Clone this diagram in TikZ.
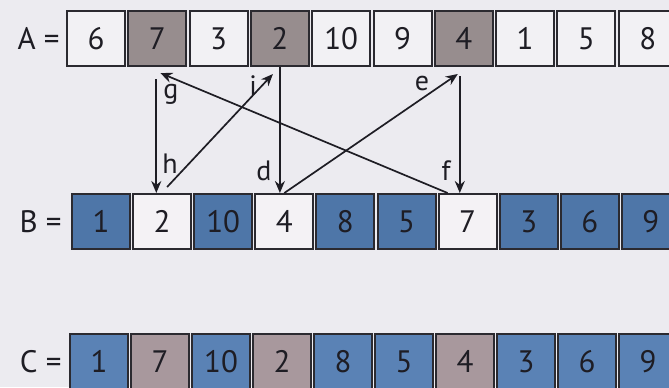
\documentclass[tikz,border=0pt]{standalone}
\usepackage{fontspec}
\setmainfont{PT Sans}
\usetikzlibrary{positioning,arrows.meta}

\definecolor{pagebg}{HTML}{ECEBF0}
\definecolor{cellline}{HTML}{2B2A30}
\definecolor{awhite}{HTML}{F2F1F4}
\definecolor{agray}{HTML}{978D8E}
\definecolor{bblue}{HTML}{4E76A8}
\definecolor{bwhite}{HTML}{F4F2F5}
\definecolor{cblue}{HTML}{5A82B5}
\definecolor{cgray}{HTML}{A8989D}
\definecolor{inktext}{HTML}{1E1D24}

\tikzset{
  cell/.style={draw=cellline,line width=1pt,minimum width=29pt,minimum height=27.5pt,
    inner sep=0pt,text=inktext,font=\fontsize{15.5}{18}\selectfont},
  rowname/.style={inner sep=0pt,text=inktext,font=\fontsize{15.5}{18}\selectfont},
  arr/.style={-{Stealth[length=6pt,width=5pt]},line width=0.85pt,draw=inktext},
  steplabel/.style={anchor=base,inner sep=0pt,text=inktext,font=\fontsize{14}{16}\selectfont}
}

\begin{document}
\begin{tikzpicture}[x=0.5pt,y=-0.5pt]
\useasboundingbox[fill=pagebg] (0,0) rectangle (669,387);

% row A
\foreach \v/\c [count=\i from 0] in {6/awhite,7/agray,3/awhite,2/agray,10/awhite,9/awhite,4/agray,1/awhite,5/awhite,8/awhite}
  \node[cell,fill=\c] (a\i) at (96+61.3*\i,38.5) {\v};
% row B
\foreach \v/\c [count=\i from 0] in {1/bblue,2/bwhite,10/bblue,4/bwhite,8/bblue,5/bblue,7/bwhite,3/bblue,6/bblue,9/bblue}
  \node[cell,fill=\c] (b\i) at (101+61.1*\i,221.5) {\v};
% row C
\foreach \v/\c [count=\i from 0] in {1/cblue,7/cgray,10/cblue,2/cgray,8/cblue,5/cblue,4/cgray,3/cblue,6/cblue,9/cblue}
  \node[cell,fill=\c] (c\i) at (99+61*\i,361.5) {\v};

\node[rowname,left=3pt of a0] (namea) {A =};
\node[rowname,left=4.5pt of b0] (nameb) {B =};
\node[rowname,left=3.5pt of c0] (namec) {C =};

% free ends of the cycle
\coordinate (ftop) at ([xshift=-2pt,yshift=-4.5pt]a6.south);
\coordinate (htop) at ([xshift=-0.5pt,yshift=-6pt]a1.south);

\draw[arr] (a3.south) -- (a3.south |- b3.north);
\draw[arr] (b3.north) -- ([xshift=-3pt,yshift=-3.5pt]a6.south);
\draw[arr] (ftop) -- (ftop |- b6.north);
\draw[arr] ([xshift=-10pt]b6.north) -- ([xshift=1.5pt,yshift=-3pt]a1.south);
\draw[arr] (htop) -- (htop |- b1.north);
\draw[arr] ([xshift=2.5pt,yshift=3pt]b1.north) -- ([xshift=-3.5pt,yshift=-3.5pt]a3.south);

\node[steplabel] (labd) at (264,180) {d};
\node[steplabel] (labe) at (422,90) {e};
\node[steplabel] (labf) at (446,180) {f};
\node[steplabel] (labg) at (171,98) {g};
\node[steplabel] (labh) at (170,173) {h};
\node[steplabel] (labi) at (253,95) {i};
\end{tikzpicture}
\end{document}
